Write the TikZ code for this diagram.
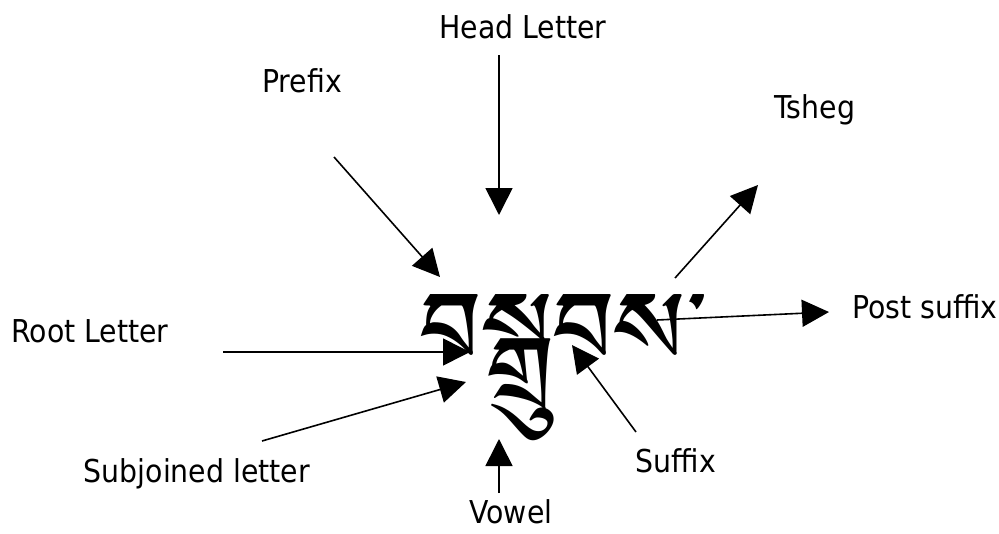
\documentclass[tikz,border=0pt]{standalone}
\usepackage{fontspec}
\setmainfont{DejaVu Sans Condensed}
\IfFontExistsTF{Tibetan Machine Uni}
  {\newfontfamily\tibfont[Script=Tibetan]{Tibetan Machine Uni}}
  {\IfFontExistsTF{Jomolhari}
    {\newfontfamily\tibfont[Script=Tibetan]{Jomolhari}}
    {\newfontfamily\tibfont[Script=Tibetan]{FreeSerif.otf}}}
\usetikzlibrary{arrows.meta}

\begin{document}
\begin{tikzpicture}[x=1pt, y=-1pt,
  lbl/.style={anchor=base, inner sep=1pt, font=\fontsize{31.5}{38}\selectfont},
  arr/.style={line width=1.6pt, -{Triangle[length=27pt,width=27pt]}}]
\useasboundingbox (0,0) rectangle (999,533);
% the word
\node[anchor=base, inner sep=0pt, font=\tibfont\fontsize{130}{150}\selectfont] (word) at (563,390) {བསྒྲུབས་};
% labels
\node[lbl] (head) at (523,38) {Head Letter};
\node[lbl] (prefix) at (302,92) {Prefix};
\node[lbl] (tsheg) at (815,118) {Tsheg};
\node[lbl] (post) at (925,318) {Post suffix};
\node[lbl] (root) at (90,342) {Root Letter};
\node[lbl] (subj) at (197,482) {Subjoined letter};
\node[lbl] (suffix) at (676,472) {Suffix};
\node[lbl] (vowel) at (511,523) {Vowel};
% arrow ends
\coordinate (head-a) at (499,55);   \coordinate (head-b) at (499,215);
\coordinate (prefix-a) at (334,157); \coordinate (prefix-b) at (440,277);
\coordinate (tsheg-a) at (675,278); \coordinate (tsheg-b) at (758,185);
\coordinate (post-a) at (657,320);  \coordinate (post-b) at (829,312);
\coordinate (root-a) at (223,352);  \coordinate (root-b) at (470,352);
\coordinate (subj-a) at (262,441);  \coordinate (subj-b) at (466,382);
\coordinate (suffix-a) at (636,432); \coordinate (suffix-b) at (572,345);
\coordinate (vowel-a) at (499,493); \coordinate (vowel-b) at (499,439);
\foreach \n in {head,prefix,tsheg,post,root,subj,suffix,vowel}
  \draw[arr] (\n-a) -- (\n-b);
\end{tikzpicture}
\end{document}
